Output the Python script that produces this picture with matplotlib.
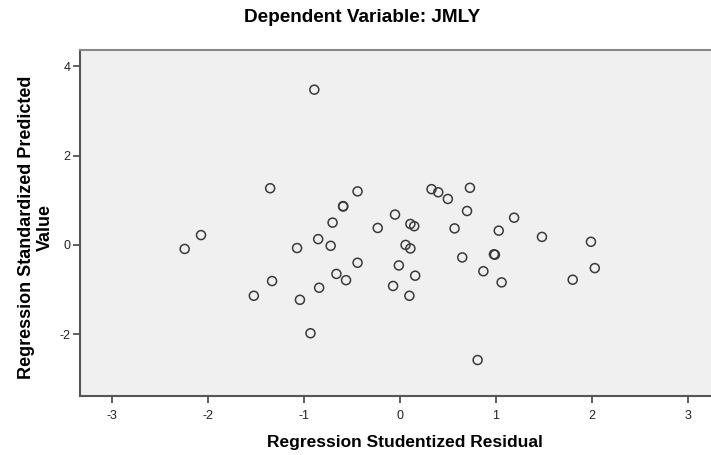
import matplotlib
matplotlib.use('Agg')
import matplotlib.pyplot as plt

# studentized residual (x) vs standardized predicted value (y)
resid = [-2.24, -2.07, -0.89, -1.35, -0.59, -0.59, -0.44, 0.33, 0.40, 0.50,
         0.73, 0.70, -0.05, -0.70, -0.23, 0.11, 0.15, 0.57, -0.85, -1.07,
         -0.72, 0.06, 0.11, -0.44, -0.01, 0.65, -1.33, -0.66, -0.56, 0.16,
         -0.84, -0.07, -1.52, -1.04, 0.10, -0.93, 0.81, 1.19, 1.03, 1.48,
         1.99, 0.98, 0.99, 0.87, 1.06, 2.03, 1.80]
pred = [-0.09, 0.22, 3.48, 1.27, 0.87, 0.86, 1.20, 1.25, 1.18, 1.03,
        1.28, 0.76, 0.68, 0.50, 0.38, 0.47, 0.42, 0.37, 0.13, -0.07,
        -0.02, 0.00, -0.08, -0.40, -0.46, -0.28, -0.81, -0.65, -0.79, -0.69,
        -0.96, -0.92, -1.14, -1.23, -1.14, -1.98, -2.58, 0.61, 0.32, 0.18,
        0.07, -0.21, -0.22, -0.59, -0.84, -0.52, -0.78]

xticks = [-3, -2, -1, 0, 1, 2, 3]
yticks = [-2, 0, 2, 4]

plt.rcParams['font.family'] = ['Liberation Sans', 'DejaVu Sans']
plt.rcParams['axes.unicode_minus'] = False

fig = plt.figure(figsize=(7.11, 4.55), dpi=100)
ax = fig.add_axes([0.1125, 0.1303, 0.8875, 0.7609])
ax.set_facecolor('#f0f0f0')

ax.scatter(resid, pred, s=42, facecolors='none', edgecolors='#3a3a3a',
           linewidths=1.1, zorder=3)

ax.set_xlim(-3.33, 3.24)
ax.set_ylim(-3.38, 4.38)
ax.set_xticks(xticks)
ax.set_yticks(yticks)
ax.tick_params(direction='out', length=5, width=1.2, color='#444444',
               labelsize=9, labelcolor='#222222')
ax.tick_params(axis='x', pad=5)
ax.tick_params(axis='y', pad=2)

ax.spines['right'].set_visible(False)
ax.spines['top'].set_color('#888888')
ax.spines['top'].set_linewidth(1.5)
for s in ['left', 'bottom']:
    ax.spines[s].set_color('#555555')
    ax.spines[s].set_linewidth(1.5)

fig.text(362 / 711, 1 - 18 / 455, 'Dependent Variable: JMLY',
         ha='center', va='center', fontsize=13.7, fontweight='bold')
fig.text(405 / 711, 1 - 442 / 455, 'Regression Studentized Residual',
         ha='center', va='center', fontsize=12.5, fontweight='bold')
fig.text(36 / 711, 1 - 227.5 / 455, 'Regression Standardized Predicted\nValue',
         ha='center', va='center', rotation=90, multialignment='center',
         fontsize=13, fontweight='bold', linespacing=1.12)

fig.savefig('out.png', dpi=100)
